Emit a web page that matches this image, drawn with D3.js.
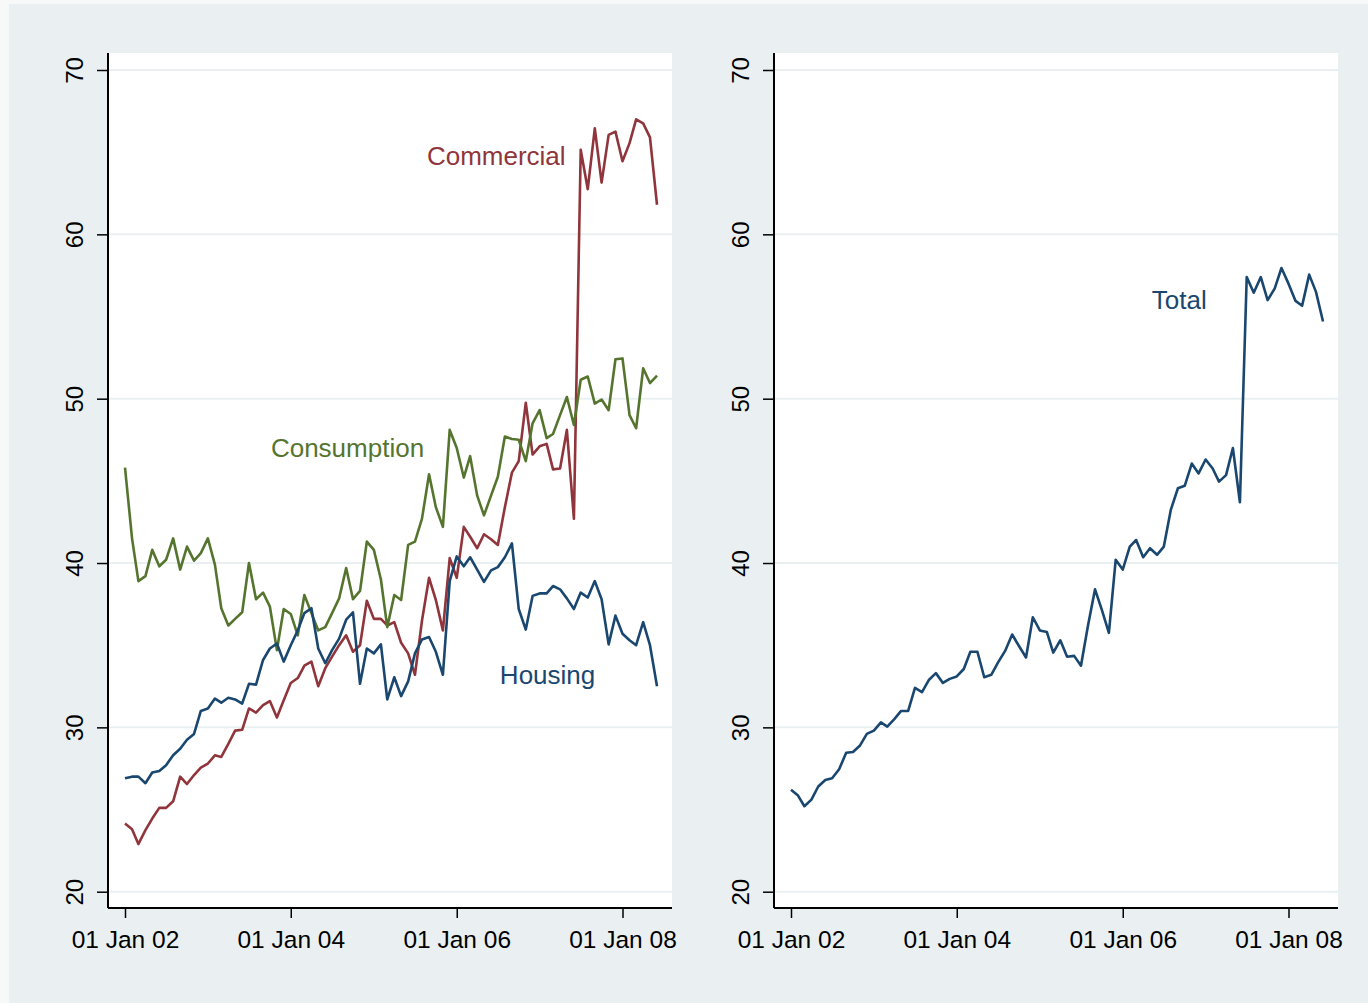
<!DOCTYPE html>
<html>
<head>
<meta charset="utf-8">
<script src="https://cdn.jsdelivr.net/npm/d3@7"></script>
<style>
  body { margin: 0; background: #f7f9f9; }
  text { font-family: "Liberation Sans", Arial, sans-serif; }
</style>
</head>
<body>
<div id="chart-area"></div>
<script>
// monthly observations, Jan 2002 - Jun 2008
var months = d3.timeMonth.range(new Date(2002, 0, 1), new Date(2008, 6, 1));

var commercial = [24.15, 23.8, 22.9, 23.75, 24.45, 25.1, 25.1, 25.5, 27.0, 26.55, 27.1, 27.55,
  27.8, 28.3, 28.2, 29.0, 29.8, 29.85, 31.15, 30.9, 31.35, 31.6, 30.6, 31.65,
  32.7, 33.0, 33.75, 34.0, 32.5, 33.6, 34.3, 35.0, 35.6, 34.6, 35.0, 37.7,
  36.6, 36.6, 36.2, 36.4, 35.15, 34.5, 33.2, 36.5, 39.1, 37.75, 35.9, 40.3,
  39.1, 42.2, 41.6, 40.9, 41.75, 41.45, 41.1, 43.4, 45.5, 46.2, 49.75, 46.6,
  47.1, 47.25, 45.7, 45.75, 48.1, 42.7, 65.15, 62.75, 66.45, 63.15, 66.05, 66.25,
  64.45, 65.55, 67.0, 66.75, 65.9, 61.8];

var consumption = [45.8, 41.5, 38.9, 39.2, 40.8, 39.8, 40.2, 41.5, 39.6, 41.0, 40.15, 40.6,
  41.5, 39.9, 37.25, 36.2, 36.6, 37.0, 40.0, 37.8, 38.2, 37.35, 34.7, 37.2,
  36.9, 35.6, 38.05, 36.95, 35.9, 36.1, 36.95, 37.85, 39.7, 37.8, 38.3, 41.3,
  40.8, 39.0, 36.1, 38.05, 37.75, 41.1, 41.3, 42.7, 45.4, 43.4, 42.2, 48.1,
  47.0, 45.2, 46.5, 44.1, 42.9, 44.1, 45.25, 47.7, 47.55, 47.5, 46.2, 48.5,
  49.3, 47.6, 47.85, 49.0, 50.1, 48.4, 51.15, 51.35, 49.7, 49.95, 49.3, 52.4,
  52.45, 49.0, 48.2, 51.85, 50.95, 51.4];

var housing = [26.9, 27.0, 27.0, 26.6, 27.25, 27.35, 27.7, 28.3, 28.7, 29.25, 29.6, 31.0,
  31.15, 31.75, 31.5, 31.8, 31.7, 31.45, 32.65, 32.6, 34.1, 34.8, 35.1, 34.0,
  35.0, 35.9, 36.95, 37.25, 34.8, 33.9, 34.7, 35.4, 36.55, 37.0, 32.65, 34.8,
  34.5, 35.05, 31.7, 33.05, 31.9, 32.8, 34.5, 35.35, 35.5, 34.6, 33.2, 38.9,
  40.4, 39.8, 40.35, 39.6, 38.85, 39.55, 39.75, 40.35, 41.2, 37.2, 35.95, 38.0,
  38.15, 38.15, 38.6, 38.4, 37.85, 37.2, 38.2, 37.9, 38.9, 37.8, 35.05, 36.8,
  35.7, 35.3, 35.0, 36.4, 35.0, 32.5];

var total = [26.2, 25.85, 25.2, 25.6, 26.4, 26.8, 26.9, 27.45, 28.45, 28.5, 28.9, 29.6,
  29.8, 30.3, 30.05, 30.5, 31.0, 31.0, 32.4, 32.15, 32.9, 33.3, 32.7, 32.95,
  33.1, 33.55, 34.6, 34.6, 33.05, 33.2, 33.95, 34.65, 35.65, 34.95, 34.25, 36.7,
  35.9, 35.8, 34.55, 35.3, 34.3, 34.35, 33.75, 36.2, 38.4, 37.15, 35.75, 40.2,
  39.6, 41.0, 41.4, 40.35, 40.9, 40.5, 41.0, 43.25, 44.55, 44.7, 46.05, 45.45,
  46.3, 45.75, 44.95, 45.35, 47.0, 43.7, 57.4, 56.45, 57.4, 56.0, 56.7, 57.95,
  57.0, 55.95, 55.65, 57.55, 56.5, 54.7];

var yTicks = [20, 30, 40, 50, 60, 70];
var xTicks = [new Date(2002, 0, 1), new Date(2004, 0, 1), new Date(2006, 0, 1), new Date(2008, 0, 1)];

var svg = d3.select("#chart-area").append("svg")
    .attr("width", 1368)
    .attr("height", 1003);

// graph region
svg.append("rect")
    .attr("x", 9).attr("y", 4)
    .attr("width", 1359).attr("height", 999)
    .attr("fill", "#eaf0f2");

var y = d3.scaleLinear().domain([20, 70]).range([891.7, 70]);

var fmt = d3.timeFormat("%d %b %y");

function panel(x0, series) {
    var x = d3.scaleTime()
        .domain([new Date(2002, 0, 1), new Date(2008, 0, 1)])
        .range([x0 + 17, x0 + 514.5]);

    var g = svg.append("g");

    g.append("rect")
        .attr("x", x0).attr("y", 53)
        .attr("width", 564).attr("height", 855)
        .attr("fill", "white");

    // grid
    g.selectAll(".grid")
        .data(yTicks)
        .enter().append("line")
            .attr("x1", x0).attr("x2", x0 + 564)
            .attr("y1", function(d) { return y(d); })
            .attr("y2", function(d) { return y(d); })
            .attr("stroke", "#eaf0f2")
            .attr("stroke-width", 2);

    var line = d3.line()
        .x(function(d, i) { return x(months[i]); })
        .y(function(d) { return y(d); });

    series.forEach(function(s) {
        g.append("path")
            .datum(s.values)
            .attr("d", line)
            .attr("fill", "none")
            .attr("stroke", s.color)
            .attr("stroke-width", 2.6)
            .attr("stroke-linejoin", "round");

        g.append("text")
            .attr("x", x(s.at[0]))
            .attr("y", y(s.at[1]))
            .attr("text-anchor", "middle")
            .attr("font-size", 26)
            .attr("fill", s.color)
            .text(s.name);
    });

    // y axis
    var ya = g.append("g")
        .attr("transform", "translate(" + x0 + ",0)")
        .call(d3.axisLeft(y).tickValues(yTicks).tickSize(11).tickPadding(0).tickFormat(d3.format("d")));
    ya.select(".domain").attr("d", "M0,53V908").attr("stroke", "#000").attr("stroke-width", 2);
    ya.selectAll(".tick line").attr("stroke", "#000").attr("stroke-width", 1.5);
    ya.selectAll(".tick text")
        .attr("transform", "rotate(-90)")
        .attr("x", 0).attr("y", -31)
        .attr("dy", 0)
        .attr("text-anchor", "middle")
        .attr("font-size", 24)
        .attr("fill", "#000")
        .attr("font-family", "Liberation Sans, Arial, sans-serif")
        .attr("dominant-baseline", "middle");

    // x axis
    var xa = g.append("g")
        .attr("transform", "translate(0,908)")
        .call(d3.axisBottom(x).tickValues(xTicks).tickSize(10).tickFormat(fmt));
    xa.select(".domain").attr("d", "M" + x0 + ",0H" + (x0 + 564)).attr("stroke", "#000").attr("stroke-width", 2);
    xa.selectAll(".tick line").attr("stroke", "#000").attr("stroke-width", 1.5);
    xa.selectAll(".tick text")
        .attr("y", 40).attr("dy", 0)
        .attr("font-size", 24.5)
        .attr("fill", "#000")
        .attr("font-family", "Liberation Sans, Arial, sans-serif");
}

panel(108, [
    { name: "Commercial", values: commercial, color: "#90353b", at: [new Date(2006, 5, 24), 64.2] },
    { name: "Consumption", values: consumption, color: "#55752f", at: [new Date(2004, 8, 7), 46.45] },
    { name: "Housing", values: housing, color: "#1a476f", at: [new Date(2007, 1, 5), 32.65] }
]);

panel(774, [
    { name: "Total", values: total, color: "#1a476f", at: [new Date(2006, 8, 7), 55.45] }
]);
</script>
</body>
</html>
